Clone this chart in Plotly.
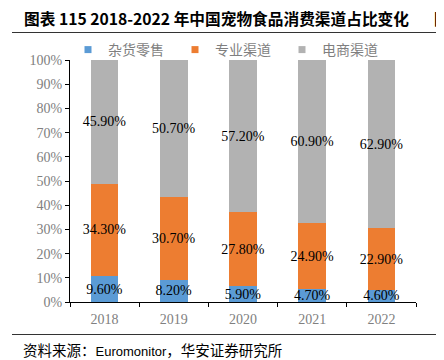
import plotly.graph_objects as go

years = ["2018", "2019", "2020", "2021", "2022"]
grocery = [9.6, 8.2, 5.9, 4.7, 4.6]
specialty = [34.3, 30.7, 27.8, 24.9, 22.9]
ecommerce = [45.9, 50.7, 57.2, 60.9, 62.9]
series_names = ["杂货零售", "专业渠道", "电商渠道"]
colors = ["#5B9BD5", "#ED7D31", "#B2B2B2"]
yticks = [0, 10, 20, 30, 40, 50, 60, 70, 80, 90, 100]
ytick_labels = [f"{v}%" for v in yticks]

OFF = 8  # page body margin
W, H = 444, 360


def px(x):
    return (x - OFF) / W


def py(y):
    return 1 - (y - OFF) / H


fig = go.Figure()
for name, vals, c in zip(series_names, [grocery, specialty, ecommerce], colors):
    fig.add_trace(go.Bar(
        x=years, y=vals, name=name, marker=dict(color=c, line=dict(width=0)),
        text=[f"{v:.2f}%" for v in vals], textposition="inside",
        insidetextanchor="middle", textangle=0, constraintext="none",
        textfont=dict(family="Liberation Serif", size=14, color="black"),
        showlegend=False, hoverinfo="skip",
    ))
    fig.add_trace(go.Scatter(
        x=[None], y=[None], mode="markers", name=name,
        marker=dict(symbol="square", size=7, color=c), showlegend=True,
    ))

# Page decoration (rules and the edge of the neighbouring table), drawn on a
# hidden full-page subplot whose axes run in page pixels.
rule_x = [12, 437, None, 12, 452]
rule_y = [32.5, 32.5, None, 334.5, 334.5]
table_x = [436.5, 436.5]
table_y = [33, 318]
for yy in [95, 112, 137, 163, 189, 215, 241, 267, 293, 318]:
    table_x += [None, 436, 452]
    table_y += [None, yy + 0.5, yy + 0.5]
block_x = [436, 452, 452, 436, 436]
block_y = [33, 33, 60, 60, 33]

fig.add_trace(go.Scatter(x=block_x, y=block_y, xaxis="x2", yaxis="y2", mode="lines",
                         fill="toself", fillcolor="#4472C4", line=dict(width=0),
                         showlegend=False, hoverinfo="skip"))
fig.add_trace(go.Scatter(x=rule_x, y=rule_y, xaxis="x2", yaxis="y2", mode="lines",
                         line=dict(color="#333333", width=1), connectgaps=False,
                         showlegend=False, hoverinfo="skip"))
fig.add_trace(go.Scatter(x=table_x, y=table_y, xaxis="x2", yaxis="y2", mode="lines",
                         line=dict(color="black", width=1), connectgaps=False,
                         showlegend=False, hoverinfo="skip"))

fig.update_layout(
    width=W, height=H, barmode="stack", barnorm="percent", bargap=0.6,
    margin=dict(l=0, r=0, t=0, b=0, autoexpand=False),
    paper_bgcolor="white", plot_bgcolor="rgba(0,0,0,0)",
    uniformtext=dict(mode="show", minsize=14),
    legend=dict(orientation="h", x=px(68), y=py(50), xanchor="left", yanchor="middle",
                entrywidth=62, entrywidthmode="pixels", itemwidth=30,
                traceorder="normal",
                font=dict(family="Noto Sans CJK SC", size=14, color="#7F7F7F"),
                bgcolor="rgba(0,0,0,0)", tracegroupgap=0),
    xaxis=dict(domain=[px(70), px(416)], anchor="y",
               showline=True, linecolor="black", linewidth=1.3, ticks="outside",
               tickson="boundaries", ticklen=4, tickcolor="black", ticklabelstandoff=4,
               tickfont=dict(family="Liberation Serif", size=14, color="#808080"),
               showgrid=False, fixedrange=True, automargin=False),
    yaxis=dict(domain=[py(302), py(60)], anchor="x",
               range=[0, 100], tickmode="array", tickvals=yticks, ticktext=ytick_labels,
               showline=True, linecolor="black", linewidth=1.3, ticks="outside", ticklen=4,
               tickcolor="black", showgrid=False, zeroline=False, automargin=False,
               tickfont=dict(family="Liberation Serif", size=14, color="#808080")),
    xaxis2=dict(domain=[0, 1], anchor="y2", range=[OFF, OFF + W], visible=False,
                showgrid=False, zeroline=False, fixedrange=True),
    yaxis2=dict(domain=[0, 1], anchor="x2", range=[OFF + H, OFF], visible=False,
                showgrid=False, zeroline=False, fixedrange=True),
)

# Page text: title, source, neighbouring element edge
fig.add_annotation(text="<b>图表 115 2018-2022 年中国宠物食品消费渠道占比变化</b>",
                   xref="paper", yref="paper", x=px(22), y=py(18), xanchor="left",
                   yanchor="middle", showarrow=False,
                   font=dict(family="Noto Sans CJK SC", size=15.7, color="black"))
fig.add_annotation(text="<b>图</b>", xref="paper", yref="paper", x=px(432), y=py(18),
                   xanchor="left", yanchor="middle", showarrow=False,
                   font=dict(family="Noto Sans CJK SC", size=15.7, color="black"))
fig.add_annotation(text="资料来源：<span style='font-family:Liberation Sans;font-size:13px'>Euromonitor</span>，华安证券研究所",
                   xref="paper", yref="paper", x=px(21), y=py(349), xanchor="left",
                   yanchor="middle", showarrow=False,
                   font=dict(family="Noto Sans CJK SC", size=14.5, color="black"))
fig.add_annotation(text="资", xref="paper", yref="paper", x=px(436), y=py(349),
                   xanchor="left", yanchor="middle", showarrow=False,
                   font=dict(family="Noto Sans CJK SC", size=14.5, color="black"))

fig.write_html("out.html")
